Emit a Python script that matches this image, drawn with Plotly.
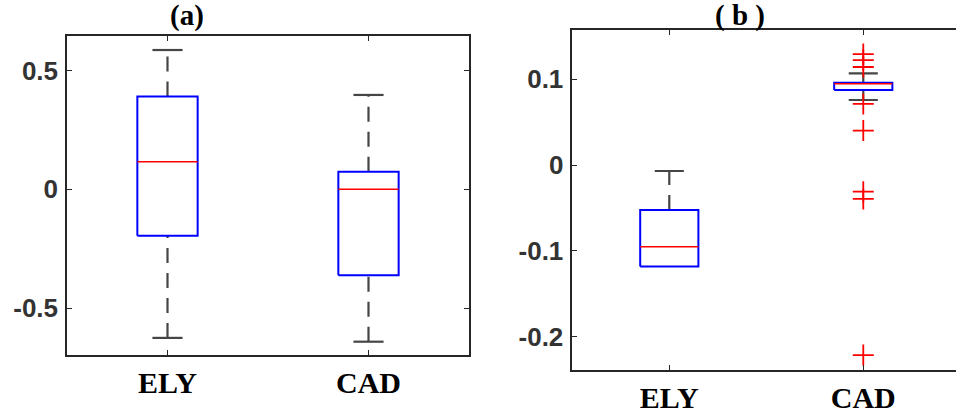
import plotly.graph_objects as go

categories = ["ELY", "CAD"]
positions = [1, 2]

# panel (a) box statistics
a_q1 = [-0.195, -0.362]
a_med = [0.116, 0.0]
a_q3 = [0.390, 0.074]
a_lo = [-0.625, -0.641]
a_hi = [0.586, 0.397]
a_yticks = [-0.5, 0, 0.5]
a_yticktext = ["-0.5", "0", "0.5"]

# panel (b) box statistics
b_q1 = [-0.118, 0.0872]
b_med = [-0.095, 0.0945]
b_q3 = [-0.0523, 0.0957]
b_lo = [-0.118, 0.0756]
b_hi = [-0.007, 0.1066]
b_out_cad = [0.129, 0.122, 0.114, 0.071, 0.040, -0.031, -0.0395, -0.221]
b_yticks = [-0.2, -0.1, 0, 0.1]
b_yticktext = ["-0.2", "-0.1", "0", "0.1"]

BOXW = 0.3
CAPW = 0.15
WHISK = "#454545"
AXC = "#262626"

fig = go.Figure()


def line(xa, ya, xs, ys, color, width, dash="solid"):
    fig.add_trace(go.Scatter(x=xs, y=ys, mode="lines",
                             line=dict(color=color, width=width, dash=dash),
                             xaxis=xa, yaxis=ya, showlegend=False, hoverinfo="skip"))


def add_panel(xa, ya, q1, med, q3, lo, hi):
    for i, x in enumerate(positions):
        # whiskers drawn bottom-to-top (as MATLAB does)
        if hi[i] > q3[i]:
            line(xa, ya, [x, x], [q3[i], hi[i]], WHISK, 2.2, "15px,10px")
            line(xa, ya, [x - CAPW / 2, x + CAPW / 2], [hi[i], hi[i]], WHISK, 2.2)
        if lo[i] < q1[i]:
            line(xa, ya, [x, x], [lo[i], q1[i]], WHISK, 2.2, "15px,10px")
            line(xa, ya, [x - CAPW / 2, x + CAPW / 2], [lo[i], lo[i]], WHISK, 2.2)
        # box
        l, r = x - BOXW / 2, x + BOXW / 2
        line(xa, ya, [l, r, r, l, l], [q1[i], q1[i], q3[i], q3[i], q1[i]], "#0000FF", 2)
        # median
        line(xa, ya, [l, r], [med[i], med[i]], "#FF0000", 1.6)


add_panel("x", "y", a_q1, a_med, a_q3, a_lo, a_hi)
add_panel("x2", "y2", b_q1, b_med, b_q3, b_lo, b_hi)

fig.add_trace(go.Scatter(x=[positions[1]] * len(b_out_cad), y=b_out_cad, mode="markers",
                         marker=dict(symbol="cross-thin", size=15,
                                     line=dict(color="#FF0000", width=1.8)),
                         xaxis="x2", yaxis="y2", showlegend=False))

ytickfont = dict(family="Liberation Sans, Arial", size=26, color="#333333", weight="bold")
xtickfont = dict(family="Liberation Serif, Times New Roman", size=30, color="#000000", weight="bold")

common_x = dict(tickvals=positions, ticktext=categories, ticks="inside", ticklen=5,
                tickcolor=AXC, showline=True, linecolor=AXC, linewidth=1.5,
                showgrid=False, zeroline=False, tickfont=xtickfont)
common_y = dict(ticks="inside", ticklen=5, tickcolor=AXC, showline=True, linecolor=AXC,
                linewidth=1.5, showgrid=False, zeroline=False, tickfont=ytickfont,
                ticklabelstandoff=2)

W, H = 956, 415
fig.update_layout(
    width=W, height=H, margin=dict(l=0, r=0, t=0, b=0),
    plot_bgcolor="white", paper_bgcolor="white",
    xaxis=dict(domain=[67 / W, 469 / W], range=[0.5, 2.5], mirror="ticks", anchor="y", **common_x),
    yaxis=dict(domain=[(H - 355) / H, (H - 36) / H], range=[-0.697, 0.645], mirror="ticks",
               tickvals=a_yticks, ticktext=a_yticktext, anchor="x", **common_y),
    xaxis2=dict(domain=[572.3 / W, 1.0], range=[0.5, 2.478], mirror="ticks", anchor="y2", **common_x),
    yaxis2=dict(domain=[(H - 370) / H, (H - 30) / H], range=[-0.2384, 0.157], mirror=False,
                tickvals=b_yticks, ticktext=b_yticktext, anchor="x2", **common_y),
    annotations=[
        dict(text="<b>(a)</b>", x=187 / W, y=(H - 16) / H, xref="paper", yref="paper",
             xanchor="center", yanchor="middle",
             showarrow=False, font=dict(family="Liberation Serif", size=29, color="#000000")),
        dict(text="<b>( b )</b>", x=740 / W, y=(H - 15) / H, xref="paper", yref="paper",
             xanchor="center", yanchor="middle",
             showarrow=False, font=dict(family="Liberation Serif", size=29, color="#000000")),
    ],
)

fig.write_html("out.html")
